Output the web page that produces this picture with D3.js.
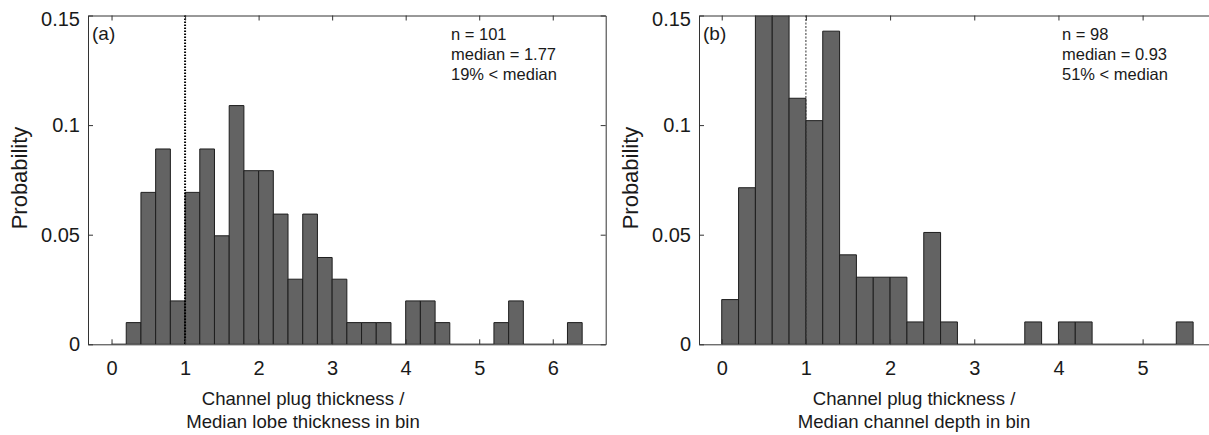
<!DOCTYPE html>
<html lang="en">

<head>
    <meta charset="UTF-8">
    <title>Channel plug thickness histograms</title>
    <style>
        html,
        body {
            margin: 0;
            padding: 0;
            background: #fff;
            overflow: hidden;
        }

        svg text {
            font-family: "Liberation Sans", Arial, sans-serif;
            fill: #1a1a1a;
        }
    </style>
</head>

<body>
    <svg id="chart" width="1209" height="435"></svg>

    <script src="https://cdn.jsdelivr.net/npm/d3@7"></script>

    <script>
        // histogram counts per 0.2-wide bin, starting at 0
        const binWidth = 0.2;
        const countsA = [0, 1, 7, 9, 2, 7, 9, 5, 11, 8, 8, 6, 3, 6, 4, 3,
            1, 1, 1, 0, 2, 2, 1, 0, 0, 0, 1, 2, 0, 0, 0, 1];
        const countsB = [2, 7, 15, 15, 11, 10, 14, 4, 3, 3, 3, 1, 5, 1, 0, 0,
            0, 0, 1, 0, 1, 1, 0, 0, 0, 0, 0, 1];
        const nA = 101;
        const nB = 98;

        const xTicksA = [0, 1, 2, 3, 4, 5, 6];
        const xTicksB = [0, 1, 2, 3, 4, 5];
        const yTicks = [0, 0.05, 0.1, 0.15];
        const yTickLabels = ['0', '0.05', '0.1', '0.15'];

        const notesA = ['n = 101', 'median = 1.77', '19% < median'];
        const notesB = ['n = 98', 'median = 0.93', '51% < median'];
        const xLabelA = ['Channel plug thickness /', 'Median lobe thickness in bin'];
        const xLabelB = ['Channel plug thickness /', 'Median channel depth in bin'];

        const svg = d3.select('#chart');
        const plotTop = 15.5, plotBottom = 344.3, plotW = 517.7;

        const y = d3.scaleLinear().domain([0, 0.15]).range([plotBottom, plotTop]);

        function panel(opt) {
            const left = opt.left;
            const x = d3.scaleLinear().domain(opt.xDomain).range([left, left + plotW]);
            const g = svg.append('g');

            // clip the bars to the axes box (panel b goes past 0.15)
            g.append('clipPath').attr('id', opt.id + '-clip')
                .append('rect')
                .attr('x', left).attr('y', plotTop)
                .attr('width', plotW).attr('height', plotBottom - plotTop);

            const bins = opt.counts.map((c, i) => ({ x0: i * binWidth, x1: (i + 1) * binWidth, p: c / opt.n }));

            // drawn as paths so empty bins still leave their outline on the baseline
            g.append('g').attr('clip-path', `url(#${opt.id}-clip)`)
                .selectAll('path')
                .data(bins)
                .enter()
                .append('path')
                .attr('d', d => `M${x(d.x0)},${y(0)}V${y(d.p)}H${x(d.x1)}V${y(0)}Z`)
                .attr('fill', '#636363')
                .attr('stroke', '#1e1e1e')
                .attr('stroke-width', 1);

            // dotted reference line at 1
            g.append('line')
                .attr('x1', x(1)).attr('x2', x(1))
                .attr('y1', plotTop).attr('y2', plotBottom)
                .attr('stroke', opt.refColor)
                .attr('stroke-width', opt.refWidth)
                .attr('stroke-dasharray', opt.refDash);

            const styleAxis = sel => {
                sel.selectAll('path, line').attr('stroke', '#333');
                sel.select('.domain').attr('stroke-width', 1);
            };

            g.append('g').attr('transform', `translate(0,${plotBottom})`)
                .call(d3.axisBottom(x).tickValues(opt.xTicks).tickFormat(d3.format('d'))
                    .tickSizeInner(-5).tickSizeOuter(0).tickPadding(16.5))
                .call(styleAxis)
                .selectAll('text').attr('font-size', 20).attr('fill', '#1a1a1a')
                .attr('font-family', '"Liberation Sans", Arial, sans-serif');

            g.append('g').attr('transform', `translate(0,${plotTop})`)
                .call(d3.axisTop(x).tickValues(opt.xTicks).tickFormat('')
                    .tickSizeInner(-5).tickSizeOuter(0))
                .call(styleAxis);

            g.append('g').attr('transform', `translate(${left},0)`)
                .call(d3.axisLeft(y).tickValues(yTicks).tickFormat((d, i) => yTickLabels[i])
                    .tickSizeInner(-5).tickSizeOuter(0).tickPadding(8))
                .call(styleAxis)
                .selectAll('text').attr('font-size', 20).attr('fill', '#1a1a1a')
                .attr('font-family', '"Liberation Sans", Arial, sans-serif')
                // top label sits a little below its tick, as in the original
                .attr('y', d => d === 0.15 ? 4 : 0);

            g.append('g').attr('transform', `translate(${left + plotW},0)`)
                .call(d3.axisRight(y).tickValues(yTicks).tickFormat('')
                    .tickSizeInner(-5).tickSizeOuter(0))
                .call(styleAxis);

            // panel letter and stats
            g.append('text').attr('x', left + 4).attr('y', 40)
                .attr('font-size', 19).text(opt.letter);

            g.selectAll('.note')
                .data(opt.notes)
                .enter()
                .append('text')
                .attr('x', left + 363)
                .attr('y', (d, i) => 40 + i * 20)
                .attr('font-size', 16.5)
                .text(d => d);

            // axis titles
            g.append('text')
                .attr('transform', `translate(${left - 61},178) rotate(-90)`)
                .attr('text-anchor', 'middle')
                .attr('font-size', 22)
                .text('Probability');

            g.selectAll('.xlab')
                .data(opt.xLabel)
                .enter()
                .append('text')
                .attr('x', left + 215)
                .attr('y', (d, i) => 405 + i * 23)
                .attr('text-anchor', 'middle')
                .attr('font-size', 18.6)
                .text(d => d);
        }

        panel({
            id: 'a', left: 88, xDomain: [-0.32, 6.72], counts: countsA, n: nA,
            xTicks: xTicksA, notes: notesA, xLabel: xLabelA, letter: '(a)',
            refColor: '#000', refWidth: 2, refDash: '1.5,1.5'
        });
        panel({
            id: 'b', left: 699, xDomain: [-0.27, 5.88], counts: countsB, n: nB,
            xTicks: xTicksB, notes: notesB, xLabel: xLabelB, letter: '(b)',
            refColor: '#333', refWidth: 1, refDash: '2,1.5'
        });
    </script>
</body>

</html>
